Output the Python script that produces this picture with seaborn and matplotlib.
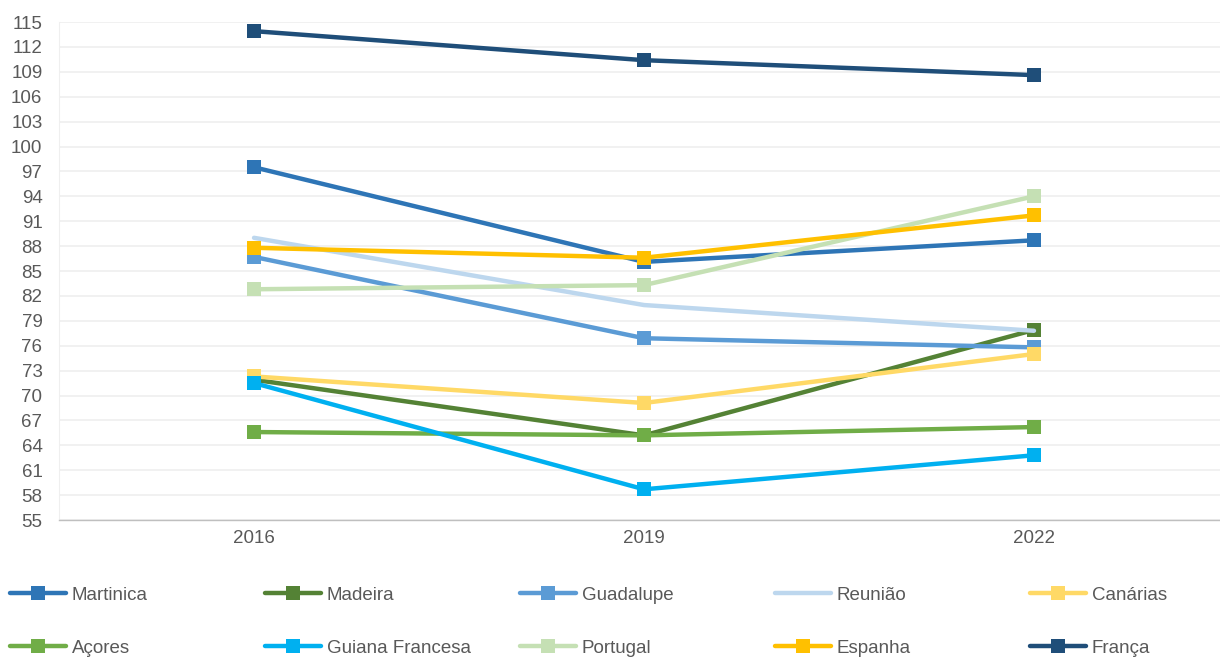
import pandas as pd
import matplotlib.pyplot as plt
import seaborn as sns
from matplotlib.lines import Line2D

# Chart data
years = ['2016', '2019', '2022']
regions = ['Martinica', 'Madeira', 'Guadalupe', 'Reunião', 'Canárias',
           'Açores', 'Guiana Francesa', 'Portugal', 'Espanha', 'França']
martinica = [97.5, 86.1, 88.7]
madeira = [71.9, 65.2, 77.9]
guadalupe = [86.7, 76.9, 75.8]
reuniao = [89.0, 80.9, 77.8]
canarias = [72.3, 69.1, 75.0]
acores = [65.6, 65.2, 66.2]
guiana = [71.5, 58.7, 62.8]
portugal = [82.8, 83.3, 94.0]
espanha = [87.8, 86.6, 91.7]
franca = [113.9, 110.4, 108.6]
values = [martinica, madeira, guadalupe, reuniao, canarias,
          acores, guiana, portugal, espanha, franca]
colors = ['#2E75B6', '#548235', '#5B9BD5', '#BDD7EE', '#FFD966',
          '#70AD47', '#00B0F0', '#C5E0B4', '#FFC000', '#1F4E79']
no_marker = ['Reunião']

rows = []
for name, vals in zip(regions, values):
    for i, (yr, v) in enumerate(zip(years, vals)):
        rows.append({'region': name, 'pos': i, 'year': yr, 'value': v})
data = pd.DataFrame(rows)

sns.set_style('white')
plt.rcParams['font.family'] = ['Liberation Sans', 'DejaVu Sans']
fs = 13.5

fig = plt.figure(figsize=(12.2, 6.57), dpi=100)
ax = fig.add_axes([0.0484, 0.2085, 0.9516, 0.758])

handles = {}
for name, col in zip(regions, colors):
    sub = data[data['region'] == name]
    mk = None if name in no_marker else 's'
    sns.lineplot(data=sub, x='pos', y='value', color=col, linewidth=3.2,
                 marker=mk, markersize=10, markeredgewidth=0, ax=ax,
                 legend=False, zorder=3)
    handles[name] = Line2D([0], [0], color=col, linewidth=3.2,
                           marker=mk if mk else None, markersize=10,
                           markeredgewidth=0, solid_capstyle='round')

ax.set_xlim(-0.5, 2.477)
ax.set_ylim(55, 115)
ax.set_yticks(range(55, 116, 3))
ax.set_xticks(range(len(years)))
ax.set_xticklabels(years)
ax.set_xticks([-0.5, 0.5, 1.5], minor=True)
ax.tick_params(axis='x', which='major', length=0, pad=7, labelsize=fs, labelcolor='#595959')
ax.tick_params(axis='x', which='minor', length=5, color='#BFBFBF', width=1)
ax.tick_params(axis='y', length=0, pad=12, labelsize=fs, labelcolor='#595959')
ax.set_xlabel('')
ax.set_ylabel('')
ax.grid(axis='y', color='#EFEFEF', linewidth=1.2, zorder=0)
ax.set_axisbelow(True)
for s in ['top', 'right']:
    ax.spines[s].set_visible(False)
ax.spines['left'].set_color('#EFEFEF')
ax.spines['bottom'].set_color('#BFBFBF')
ax.spines['bottom'].set_linewidth(1)

# legend: 5 columns x 2 rows, fixed pitch
xs = [0.008, 0.217, 0.426, 0.635, 0.844]
ys = [0.0944, 0.0137]
for k, name in enumerate(regions):
    r, c = divmod(k, 5)
    fig.legend(handles=[handles[name]], labels=[name], loc='center left',
               bbox_to_anchor=(xs[c], ys[r]), frameon=False, fontsize=fs,
               labelcolor='#595959', handlelength=3.0, handletextpad=0.3,
               borderaxespad=0, borderpad=0)

fig.savefig('out.png', dpi=100)
